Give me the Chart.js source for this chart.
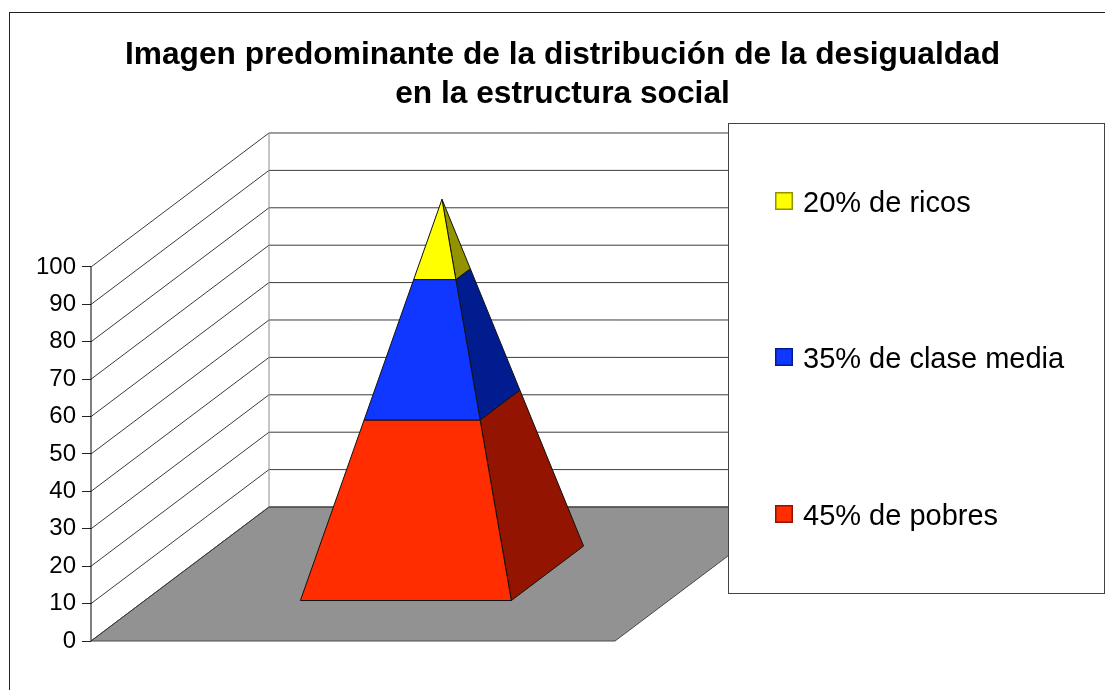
<!DOCTYPE html>
<html><head><meta charset="utf-8">
<style>html,body{margin:0;padding:0;background:#fff}canvas{display:block}</style>
<script src="https://cdn.jsdelivr.net/npm/chart.js@4/dist/chart.umd.js"></script>
</head><body><canvas id="c" width="1105" height="690"></canvas>
<script>
const titleLines = ['Imagen predominante de la distribución de la desigualdad', 'en la estructura social'];
const categories = ['45% de pobres', '35% de clase media', '20% de ricos'];
const shares = [45, 35, 20];
const frontColors = ['#FF2D00', '#0F37FF', '#FFFF00'];
const sideColors = ['#931400', '#001C8F', '#939300'];
const yTicks = [0, 10, 20, 30, 40, 50, 60, 70, 80, 90, 100];
const FONT = '"Liberation Sans", Arial, sans-serif';

// oblique projection, in axis units
const DEPTH_X = 0.3397, DEPTH_Y = 35.83, X_MAX = 1.935, Y_MAX = 136.1;
const BASE = {x0: 0.297, x1: 0.6995, d0: 0.302, d1: 0.708};
const P = (x, y, d) => ({x: x + d * DEPTH_X, y: y + d * DEPTH_Y});

const datasets = [];
const add = (label, pts, fill, stroke, lw) => datasets.push({
  label, data: pts, showLine: true, pointRadius: 0, pointHoverRadius: 0,
  borderColor: stroke, borderWidth: lw === undefined ? 1 : lw,
  backgroundColor: fill || 'transparent', fill: fill ? 'shape' : false,
  tension: 0, clip: false
});

// floor and walls
add('floor', [P(0,0,0), P(1,0,0), P(1,0,1), P(0,0,1), P(0,0,0)], '#929292', '#4a4a4a');
yTicks.forEach(t => add('grid', [P(0,t,0), P(0,t,1), P(1,t,1)], null, '#3c3c3c'));
add('back edge', [P(0,0,1), P(0,100,1)], null, '#8c8c8c', 1);
add('axis', [P(0,0,0), P(0,100,0)], null, '#000');

// pyramid, stacked from the shares
const cx = (BASE.x0 + BASE.x1) / 2, cd = (BASE.d0 + BASE.d1) / 2;
const total = shares.reduce((a, b) => a + b, 0);
const at = (x, d, level) => {
  const t = level / total;
  return P(x + (cx - x) * t, level, d + (cd - d) * t);
};
let lo = 0;
shares.forEach((v, i) => {
  const hi = lo + v;
  add(categories[i] + ' side', [at(BASE.x1,BASE.d0,lo), at(BASE.x1,BASE.d1,lo), at(BASE.x1,BASE.d1,hi), at(BASE.x1,BASE.d0,hi), at(BASE.x1,BASE.d0,lo)], sideColors[i], '#111');
  add(categories[i], [at(BASE.x0,BASE.d0,lo), at(BASE.x1,BASE.d0,lo), at(BASE.x1,BASE.d0,hi), at(BASE.x0,BASE.d0,hi), at(BASE.x0,BASE.d0,lo)], frontColors[i], '#111');
  lo = hi;
});
datasets.reverse(); // first dataset is painted last

const frame = {
  id: 'frame',
  beforeDraw(c) {
    const g = c.ctx; g.save();
    g.fillStyle = '#fff'; g.fillRect(0, 0, c.width, c.height);
    g.strokeStyle = '#222'; g.lineWidth = 1;
    g.strokeRect(9.5, 12.5, 1200, 800);
    g.restore();
  },
  afterDraw(c) {
    const g = c.ctx; g.save();
    g.fillStyle = '#fff'; g.strokeStyle = '#444'; g.lineWidth = 1;
    g.fillRect(728.5, 123.5, 376, 470); g.strokeRect(728.5, 123.5, 376, 470);
    const rows = [201, 357, 514];
    g.font = '29px ' + FONT; g.textBaseline = 'middle'; g.textAlign = 'left';
    rows.forEach((y, r) => {
      const i = categories.length - 1 - r;
      g.fillStyle = frontColors[i]; g.strokeStyle = sideColors[i];
      g.fillRect(776, y - 8, 16, 16);
      g.lineWidth = 1.5; g.strokeRect(775.75, y - 8.25, 16.5, 16.5);
      g.fillStyle = '#000'; g.fillText(categories[i], 803, y + 3);
    });
    g.restore();
  }
};

new Chart(document.getElementById('c'), {
  type: 'scatter',
  data: {datasets},
  plugins: [frame],
  options: {
    responsive: false, animation: false, events: [],
    layout: {padding: {left: 20, right: 0, top: 0, bottom: 49}},
    plugins: {
      legend: {display: false}, tooltip: {enabled: false},
      title: {display: true, text: titleLines, color: '#000',
        font: {family: FONT, size: 31.7, weight: 'bold', lineHeight: 1.23},
        padding: {top: 36, bottom: 18}}
    },
    scales: {
      x: {type: 'linear', display: false, min: 0, max: X_MAX},
      y: {type: 'linear', min: 0, max: Y_MAX,
        afterFit: s => { s.width = 71; },
        afterBuildTicks: s => { s.ticks = yTicks.map(value => ({value})); },
        border: {display: false},
        grid: {drawOnChartArea: false, drawTicks: true, tickLength: 9, color: '#222'},
        ticks: {color: '#000', padding: 6, autoSkip: false, font: {family: FONT, size: 24}}
      }
    }
  }
});
</script></body></html>
